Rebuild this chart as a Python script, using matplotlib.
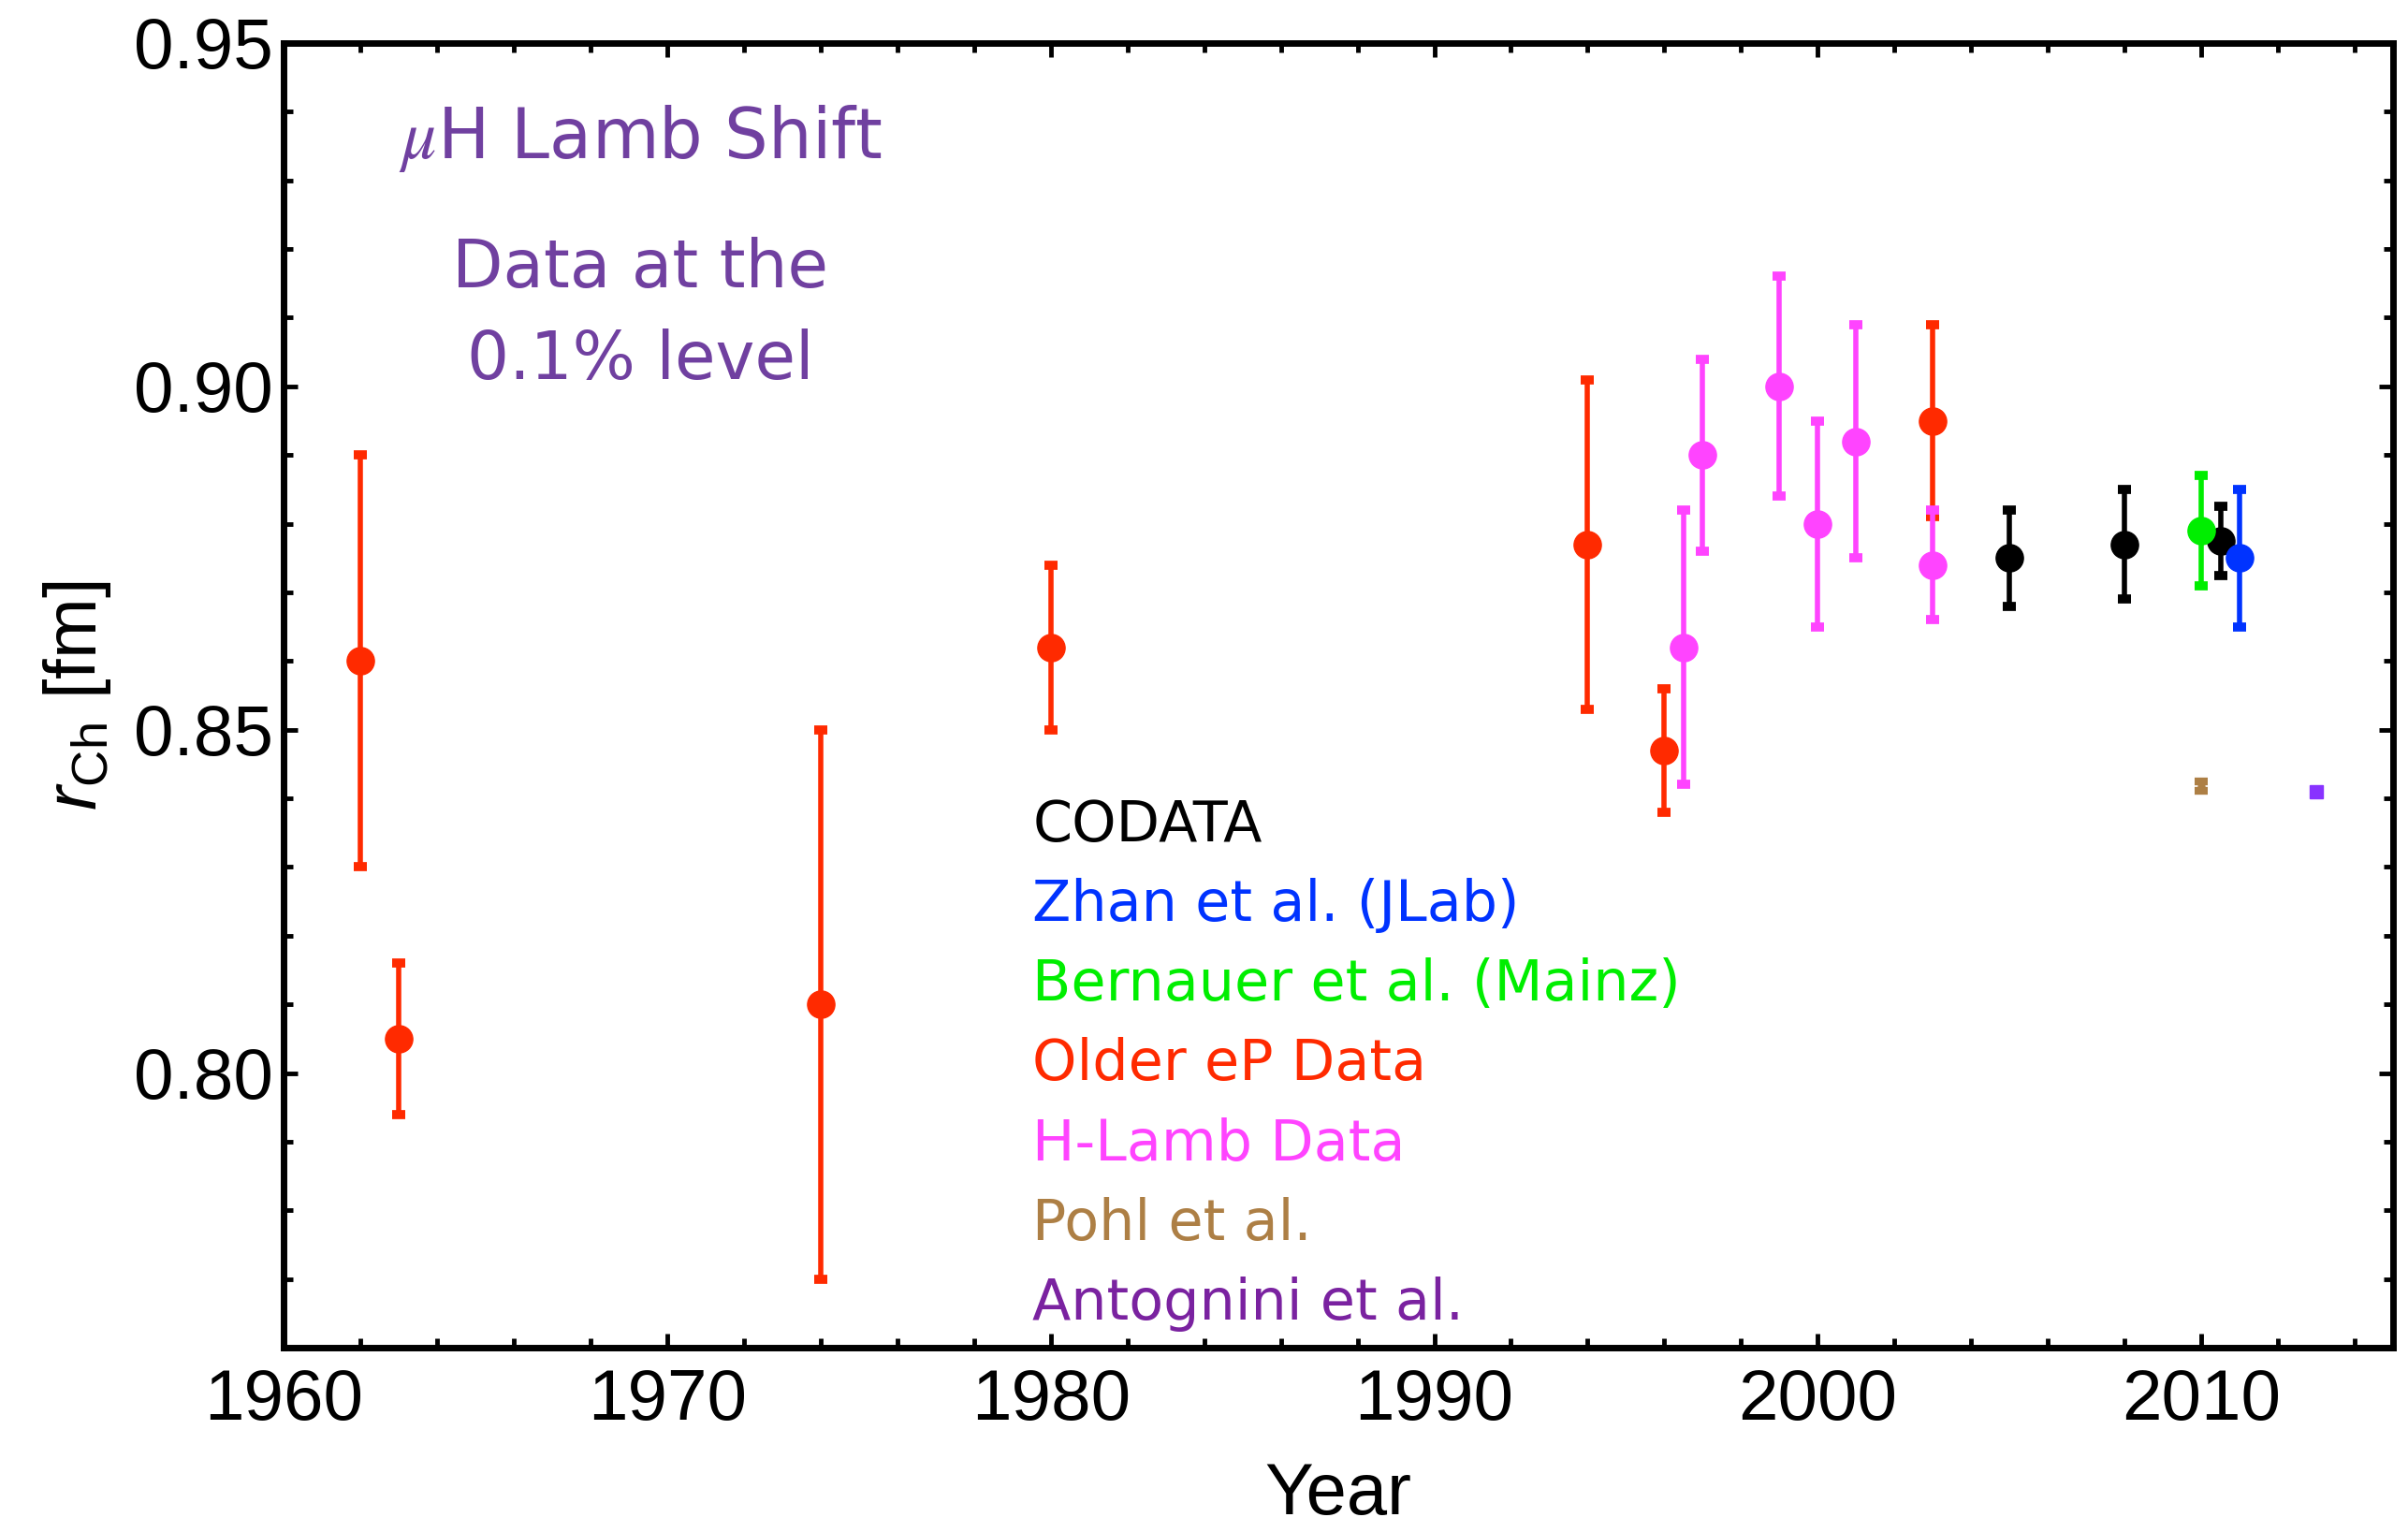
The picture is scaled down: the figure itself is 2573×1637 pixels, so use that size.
import matplotlib
matplotlib.use("Agg")
import matplotlib.pyplot as plt
from matplotlib.ticker import MultipleLocator

# data: (year, radius, error)
older_year = [1962, 1963, 1974, 1980, 1994, 1996, 2003]
older_r = [0.860, 0.805, 0.810, 0.862, 0.877, 0.847, 0.895]
older_err = [0.030, 0.011, 0.040, 0.012, 0.024, 0.009, 0.014]

hlamb_year = [1996.5, 1997, 1999, 2000, 2001, 2003]
hlamb_r = [0.862, 0.890, 0.900, 0.880, 0.892, 0.874]
hlamb_err = [0.020, 0.014, 0.016, 0.015, 0.017, 0.008]

codata_year = [2005, 2008, 2010.5]
codata_r = [0.875, 0.877, 0.8775]
codata_err = [0.007, 0.008, 0.005]

mainz_year = [2010]
mainz_r = [0.879]
mainz_err = [0.008]

jlab_year = [2011]
jlab_r = [0.875]
jlab_err = [0.010]

pohl_year = [2010]
pohl_r = [0.8418]
pohl_err = [0.0007]

antognini_year = [2013]
antognini_r = [0.8409]

legend_labels = ["CODATA", "Zhan et al. (JLab)", "Bernauer et al. (Mainz)",
                 "Older eP Data", "H-Lamb Data", "Pohl et al.", "Antognini et al."]
legend_colors = ["black", "#0033ff", "#00ee00", "#ff2a00", "#ff44ff", "#ad7f45", "#7a22a0"]

plt.rcParams["font.family"] = ["Liberation Sans", "DejaVu Sans"]
plt.rcParams["mathtext.fontset"] = "custom"
plt.rcParams["mathtext.rm"] = "Liberation Sans"
plt.rcParams["mathtext.it"] = "Liberation Sans:italic"

fig = plt.figure(figsize=(25.73, 16.37), dpi=100)
ax = fig.add_axes([0.1178, 0.1203, 0.8760, 0.8516])

ebkw = dict(fmt="o", markersize=21, elinewidth=4, capsize=5, capthick=7, linestyle="none")
ax.errorbar(older_year, older_r, yerr=older_err, color="#ff2a00", **ebkw)
ax.errorbar(hlamb_year, hlamb_r, yerr=hlamb_err, color="#ff44ff", **ebkw)
ax.errorbar(codata_year, codata_r, yerr=codata_err, color="black", **ebkw)
ax.errorbar(mainz_year, mainz_r, yerr=mainz_err, color="#00ee00", **ebkw)
ax.errorbar(jlab_year, jlab_r, yerr=jlab_err, color="#0033ff", **ebkw)
ax.errorbar(pohl_year, pohl_r, yerr=pohl_err, color="#ad7f45", fmt="o",
            markersize=5, elinewidth=4, capsize=5, capthick=6)
ax.plot(antognini_year, antognini_r, "s", color="#8833ff", markersize=10)

ax.set_xlim(1960, 2015)
ax.set_ylim(0.76, 0.95)
ax.xaxis.set_major_locator(MultipleLocator(10))
ax.xaxis.set_minor_locator(MultipleLocator(2))
ax.yaxis.set_major_locator(MultipleLocator(0.05))
ax.yaxis.set_minor_locator(MultipleLocator(0.01))
ax.yaxis.set_major_formatter(plt.FuncFormatter(lambda v, p: "%.2f" % v))

for s in ax.spines.values():
    s.set_linewidth(5)
ax.tick_params(which="both", direction="in", top=True, right=True, width=3.5)
ax.tick_params(which="major", length=11, labelsize=55, pad=16)
ax.tick_params(which="minor", length=7)
ax.tick_params(axis="y", which="major", pad=8)

ax.set_xlabel("Year", fontsize=56, labelpad=20)
ax.set_ylabel(r"$r_{\mathrm{Ch}}$ [fm]", fontsize=56, labelpad=16)

purple = "#7040a0"
ax.text(0.169, 0.927, r"$\mu$H Lamb Shift", transform=ax.transAxes, ha="center", va="center",
        fontsize=53, color=purple, family="DejaVu Sans", math_fontfamily="stix")
ax.text(0.169, 0.827, "Data at the", transform=ax.transAxes, ha="center", va="center",
        fontsize=51, color=purple, family="DejaVu Sans")
ax.text(0.169, 0.7565, "0.1% level", transform=ax.transAxes, ha="center", va="center",
        fontsize=51, color=purple, family="DejaVu Sans")

for i, (lab, col) in enumerate(zip(legend_labels, legend_colors)):
    ax.text(0.355, 0.400 - i * 0.0611, lab, transform=ax.transAxes, ha="left", va="center",
            fontsize=43.5, color=col, family="DejaVu Sans")

fig.savefig("out.png", dpi=100)
